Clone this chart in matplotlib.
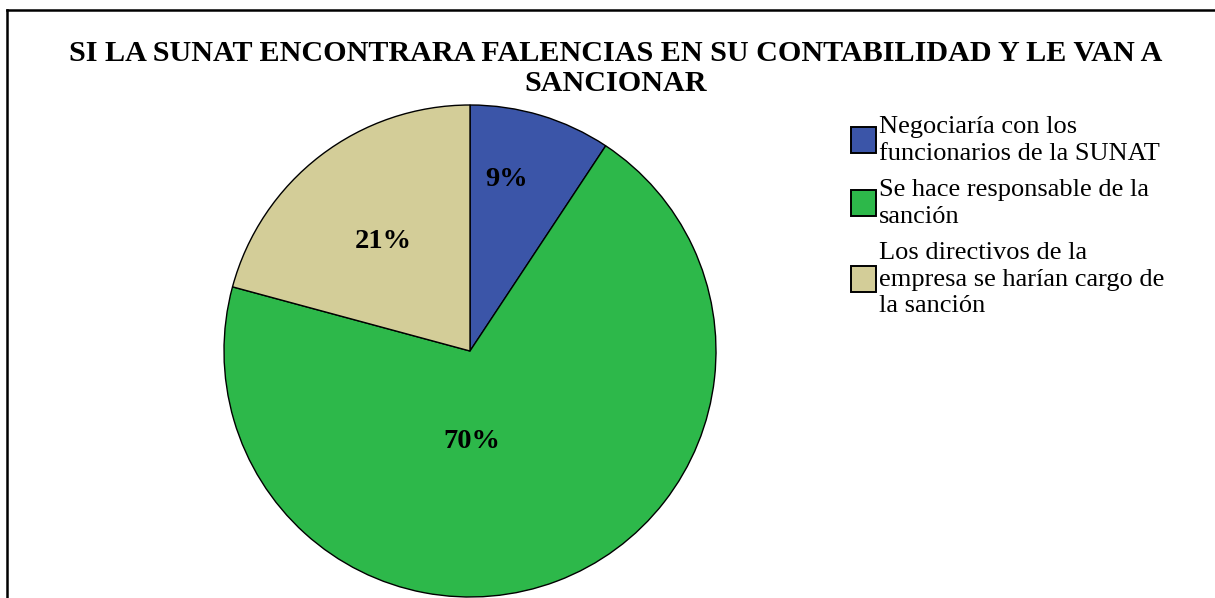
import matplotlib
matplotlib.use("Agg")
import matplotlib.pyplot as plt
from matplotlib.lines import Line2D
from matplotlib.patches import Patch

# Data
categories = ["Negociaría con los\nfuncionarios de la SUNAT",
              "Se hace responsable de la\nsanción",
              "Los directivos de la\nempresa se harían cargo de\nla sanción"]
values = [9.3, 69.9, 20.8]
pct_labels = ["9%", "70%", "21%"]
colors = ["#3b55a8", "#2db84a", "#d3cd98"]
title = "SI LA SUNAT ENCONTRARA FALENCIAS EN SU CONTABILIDAD Y LE VAN A\nSANCIONAR"

W, H = 1215, 598
fig = plt.figure(figsize=(W / 100, H / 100), dpi=100)
fig.patch.set_facecolor("white")

cx, cy, r = 470, 351, 246
ax = fig.add_axes([(cx - r) / W, (H - cy - r) / H, 2 * r / W, 2 * r / H])
wedges, _ = ax.pie(values, colors=colors, startangle=90, counterclock=False,
                   radius=1, wedgeprops=dict(edgecolor="black", linewidth=1.0))
ax.set_xlim(-1, 1)
ax.set_ylim(-1, 1)
ax.set_aspect("equal")
ax.axis("off")

# percentage labels placed in pixel offsets from center (layout)
label_offsets = [(37, 171), (2, -90), (-87, 110)]
for txt, (dx, dy) in zip(pct_labels, label_offsets):
    ax.text(dx / r, dy / r, txt, ha="center", va="center",
            fontfamily="Liberation Serif", fontweight="bold", fontsize=20.5)

fig.text(616 / W, 1 - 40 / H, title, ha="center", va="top",
         fontfamily="Liberation Serif", fontweight="bold", fontsize=21.7,
         linespacing=1.15)

handles = [Patch(facecolor=c, edgecolor="black", linewidth=1.4) for c in colors]
leg = fig.legend(handles, categories, loc="upper left",
                 bbox_to_anchor=(851 / W, 1 - 116 / H), frameon=False,
                 prop=dict(family="Liberation Serif", size=19),
                 handlelength=0.95, handleheight=1.15, handletextpad=0.12,
                 labelspacing=0.55, borderpad=0, borderaxespad=0)
for t in leg.get_texts():
    t.set_linespacing(1.27)

# frame lines (left and top)
fig.add_artist(Line2D([7 / W, 7 / W], [0, 1 - 10 / H], transform=fig.transFigure,
                      color="black", linewidth=1.8))
fig.add_artist(Line2D([7 / W, 1], [1 - 10 / H, 1 - 10 / H], transform=fig.transFigure,
                      color="black", linewidth=1.8))

fig.savefig("out.png", dpi=100)
